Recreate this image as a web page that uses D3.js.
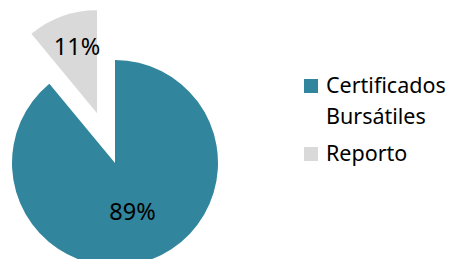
<!DOCTYPE html>
<html>
<head>
<meta charset="utf-8">
<script src="https://cdn.jsdelivr.net/npm/d3@7"></script>
<style>
  body { margin: 0; background: #fff; }
  svg { display: block; }
  text { font-family: "Noto Sans", "Open Sans", sans-serif; fill: #000; }
</style>
</head>
<body>
<div id="chart"></div>
<script>
    // data
    let categories = ['Certificados Bursátiles', 'Reporto'];
    let legendLines = [['Certificados', 'Bursátiles'], ['Reporto']];
    let shares = [89, 11];
    let colors = ['#31859C', '#D9D9D9'];

    let width = 454,
        height = 259,
        radius = 103,
        cx = 115,
        cy = 163,
        explode = 53;

    let svg = d3.select('#chart')
        .append('svg')
        .attr('width', width)
        .attr('height', height);

    // pie: first slice starts at 12 o'clock going clockwise
    let pie = d3.pie()
        .value(d => d)
        .sort(null);

    let arcs = pie(shares);

    let arc = d3.arc()
        .innerRadius(0)
        .outerRadius(radius);

    let g = svg.append('g')
        .attr('transform', `translate(${cx}, ${cy})`);

    let slices = g.selectAll('g.slice')
        .data(arcs)
        .enter()
        .append('g')
        .attr('class', 'slice')
        .attr('transform', (d, i) => {
            if (i !== 1) return null;
            let mid = (d.startAngle + d.endAngle) / 2;
            return `translate(${Math.sin(mid) * explode}, ${-Math.cos(mid) * explode})`;
        });

    slices.append('path')
        .attr('d', arc)
        .attr('fill', (d, i) => colors[i]);

    // label positions
    let labelArc = [
        d3.arc().innerRadius(radius * 0.5).outerRadius(radius * 0.5),
        d3.arc().innerRadius(radius * 0.69).outerRadius(radius * 0.69)
    ];

    slices.append('text')
        .attr('transform', (d, i) => {
            let [x, y] = labelArc[i].centroid(d);
            return `translate(${x + (i === 1 ? 4 : 0)}, ${y})`;
        })
        .attr('text-anchor', 'middle')
        .attr('dy', '0.36em')
        .style('font-size', '23.5px')
        .text(d => d.data + '%');

    // legend
    let legend = svg.append('g')
        .attr('transform', 'translate(304, 79)');

    let rows = [0, 68];
    legendLines.forEach((lines, i) => {
        let row = legend.append('g')
            .attr('transform', `translate(0, ${rows[i]})`);
        row.append('rect')
            .attr('width', 14)
            .attr('height', 14)
            .attr('fill', colors[i]);
        lines.forEach((t, j) => {
            row.append('text')
                .attr('x', 22)
                .attr('y', 14 + j * 31)
                .style('font-size', '21.5px')
                .text(t);
        });
    });
</script>
</body>
</html>
